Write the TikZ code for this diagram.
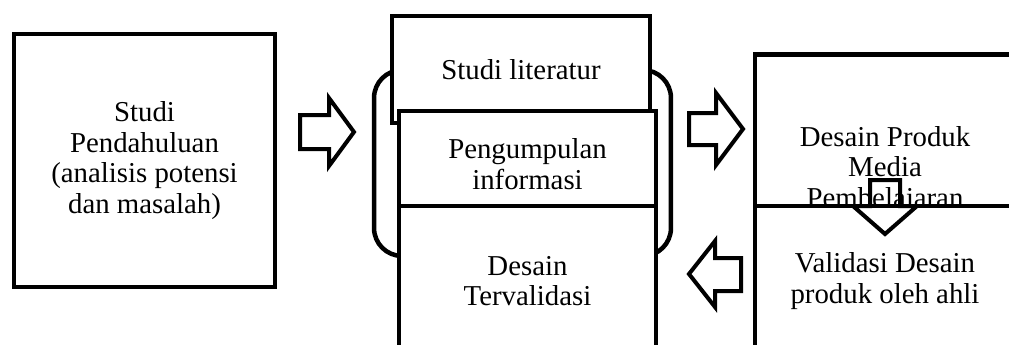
\documentclass[tikz,border=0pt]{standalone}
\usepackage{fontspec}
\setmainfont{Liberation Serif}
\usepackage{tikz}

\tikzset{
  box/.style={draw, line width=0.09cm, fill=white, align=center,
    inner sep=0pt, font=\fontsize{16.4pt}{17.4pt}\selectfont},
  group/.style={draw, line width=0.09cm, rounded corners=0.56cm, inner sep=0pt},
  blk/.style={draw, line width=0.08cm, line join=miter}
}

\begin{document}
\begin{tikzpicture}[x=0.02cm, y=-0.02cm]
	  \useasboundingbox (0,0) rectangle (1009,345);
	  \clip (0,0) rectangle (1009,345);
	  % bracket round the middle column
	  \node[group, minimum width=5.94cm, minimum height=3.72cm] (grp) at (522.5,163) {};
	  \node[box, minimum width=5.22cm, minimum height=5.06cm] (pend) at (144.5,160.5)
	  {Studi\\Pendahuluan\\(analisis potensi\\dan masalah)};
	  \node[box, minimum width=5.16cm, minimum height=2.14cm] (lit) at (521,69.5)
	  {Studi literatur};
	  \node[box, minimum width=5.14cm, minimum height=1.9cm] (info) at (527.5,158.5)
	  {\rule{0pt}{18pt}Pengumpulan\\informasi};
	  \node[box, minimum width=5.14cm, minimum height=3cm] (valid) at (527.5,281)
	  {Desain\\Tervalidasi};
	  \node[box, minimum width=5.2cm, minimum height=4.63cm] (produk) at (885,170)
	  {Desain Produk\\Media\\Pembelajaran};
	  \node[box, minimum width=5.2cm, minimum height=3cm] (ahli) at (885,281)
	  {Validasi Desain\\produk oleh ahli};
	  % block arrows
	  \draw[blk](300,115) -- (329,115) -- (329,98) -- (354,132) -- (329,166)
	  -- (329,149) -- (300,149) -- cycle;
	  \draw[blk](689,113) -- (716,113) -- (716,93) -- (743,129) -- (716,165)
	  -- (716,145) -- (689,145) -- cycle;
	  \draw[blk](741,258) -- (715,258) -- (715,241) -- (689,274) -- (715,307)
	  -- (715,291) -- (741,291) -- cycle;
	  \draw[blk](870,180) -- (900,180) -- (900,206) -- (917,206) -- (885,234)
	  -- (853,206) -- (870,206) -- cycle;
	\end{tikzpicture}
\end{document}
